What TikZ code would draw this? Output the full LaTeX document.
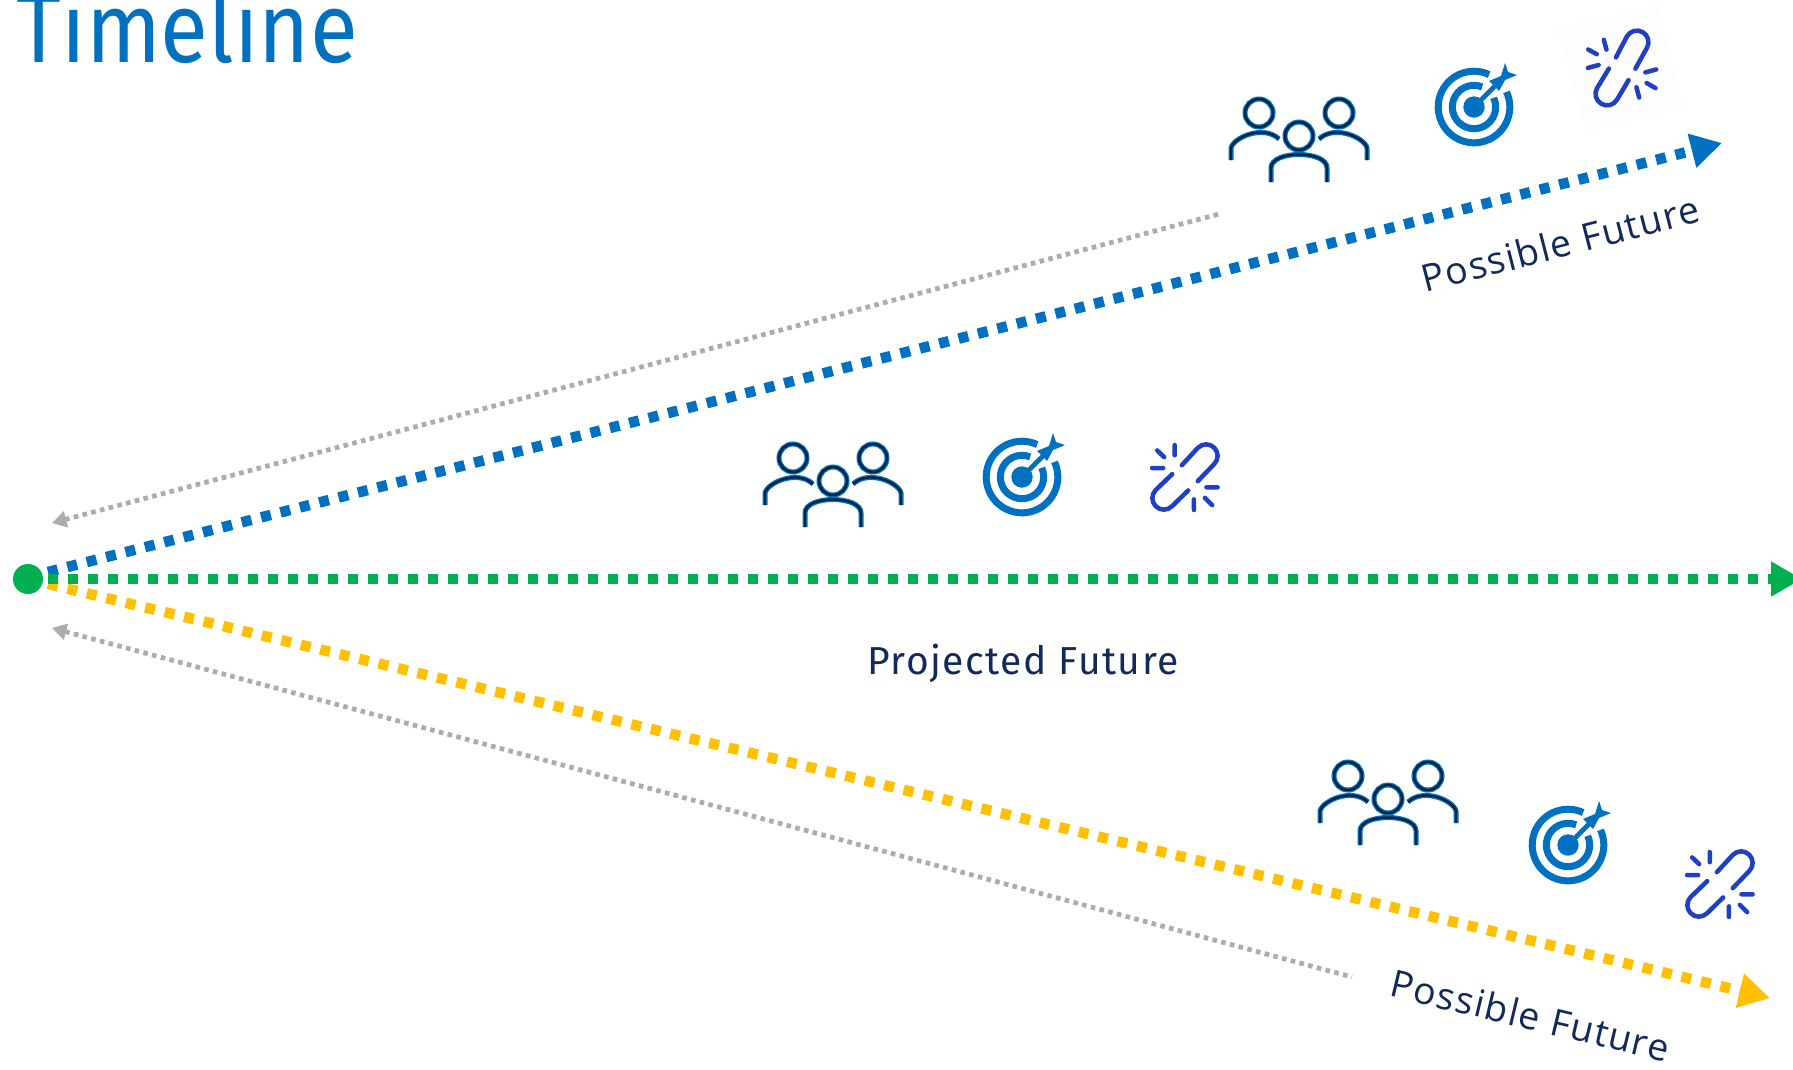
\documentclass[tikz,border=0pt]{standalone}
\usepackage{fontspec}
\setmainfont{Fira Sans}
\newfontfamily\labelfont[LetterSpace=3.9]{Fira Sans}
\newfontfamily\rotfont[LetterSpace=3.6]{Open Sans}
\usetikzlibrary{arrows.meta}
\definecolor{cblue}{HTML}{0070C0}
\definecolor{cgreen}{HTML}{00B050}
\definecolor{cyellow}{HTML}{FFC000}
\definecolor{cgray}{HTML}{AFABAB}
\definecolor{cnavy}{HTML}{12295A}
\definecolor{clink}{HTML}{1F3FC4}
\definecolor{cdark}{HTML}{04233F}
\tikzset{
  x=1pt,y=-1pt,
  bigflow/.style={line width=10.5pt,dash pattern=on 10pt off 10pt},
  smallflow/.style={cgray,line width=4.8pt,dash pattern=on 4.6pt off 4.4pt,
    {Triangle[length=14.5pt,width=16pt]}-},
  bigtip/.style={-{Triangle[length=31pt,width=33pt]}},
  lab/.style={text=cnavy,inner sep=0pt,anchor=base},
  pics/people/.style={code={
    \begin{scope}[x=1pt,y=1pt]
      \foreach \col/\wd in {cblue/5pt,cdark/2.4pt}{
        \draw[\col,line width=\wd]
          (-40,27) circle[radius=14] (0,4) circle[radius=14] (40,27) circle[radius=14]
          (-68,-20) -- (-68,-8) .. controls (-66,2) and (-36,16) .. (-20,1)
          (68,-20) -- (68,-8) .. controls (66,2) and (36,16) .. (20,1)
          (-28,-42) -- (-28,-28) .. controls (-28,-10) and (28,-10) .. (28,-28) -- (28,-42);
      }
    \end{scope}}},
  pics/target/.style={code={
    \begin{scope}[x=1pt,y=1pt]
      \draw[cblue,line width=7pt] (25:35.8) arc[start angle=25,end angle=-295,radius=35.8];
      \draw[cblue,line width=7pt] (25:21.7) arc[start angle=25,end angle=-292,radius=21.7];
      \fill[cblue] (0,0) circle[radius=10.7];
      \draw[cblue,line width=4.8pt] (0,0) -- (22,22);
      \fill[cblue] (15,26) -- (27,31) -- (31,44) -- (34,35) -- (43,32) -- (31,27) -- (25,16) -- cycle;
    \end{scope}}},
  pics/brokenlink/.style={code={
    \begin{scope}[x=1pt,y=1pt,scale=.96,clink,line width=4.5pt,line cap=round]
      \draw (-3.3,12.3) -- (13.5,30.5) arc[start angle=135,end angle=-45,radius=12] -- (13.3,-4.3);
      \draw (-13.3,3) -- (-30.5,-13.5) arc[start angle=135,end angle=315,radius=12] -- (3.3,-14);
      \draw (-10.7,33.3) -- (-10.7,22.7) (-29,27.7) -- (-21.7,20.7) (-34.3,9.3) -- (-22.7,9.3);
      \draw (22.3,-10.7) -- (34,-10.7) (20.7,-21.7) -- (28.3,-29.3) (9.3,-23.3) -- (9.3,-34.3);
    \end{scope}}}
}
\begin{document}
\begin{tikzpicture}
\useasboundingbox (0,0) rectangle (1793,1069);
\clip (0,0) rectangle (1793,1069);
% faint panel behind the rotated link
\fill[black!0.6] (1557,28) -- (1658,5) -- (1684,108) -- (1586,133) -- cycle;
\node[text=cblue,inner sep=0pt,anchor=base west,font=\fontsize{99}{99}\selectfont] (title) at (16,62) {\scalebox{0.883}[1]{Timeline}};
% free ends
\coordinate (bs) at (48,572);
\coordinate (bt) at (1722,143);
\coordinate (ys) at (48,584);
\coordinate (yt) at (1770,998);
\coordinate (gs) at (48,579);
\coordinate (gt) at (1802,579);
\coordinate (ua) at (1219,214);
\coordinate (ub) at (52,523);
\coordinate (la) at (1352,977);
\coordinate (lb) at (52,628);
\draw[smallflow] (ub) -- (ua);
\draw[smallflow] (lb) -- (la);
\draw[bigflow,cblue,bigtip] (bs) -- (bt);
\draw[bigflow,cyellow,bigtip] (ys) -- (yt);
\draw[bigflow,cgreen,bigtip] (gs) -- (gt);
\node[circle,fill=cgreen,minimum size=30pt,inner sep=0pt] (origin) at (28,579) {};
% icons
\pic at (1299,140) {people};
\pic at (1474,107) {target};
\pic[rotate=15] at (1622,68) {brokenlink};
\pic at (833,485) {people};
\pic at (1022,477) {target};
\pic at (1185,477) {brokenlink};
\pic at (1388,803) {people};
\pic at (1568,845) {target};
\pic at (1720,884) {brokenlink};
% labels
\node[lab,font=\labelfont\fontsize{39}{39}\selectfont] (proj) at (1023,674) {Projected Future};
\node[lab,rotate=14.4,font=\rotfont\fontsize{37.5}{37.5}\selectfont] (pfa) at (1564,257) {Possible Future};
\node[lab,rotate=-13.4,font=\rotfont\fontsize{37.5}{37.5}\selectfont] (pfb) at (1527,1029) {Possible Future};
\end{tikzpicture}
\end{document}
